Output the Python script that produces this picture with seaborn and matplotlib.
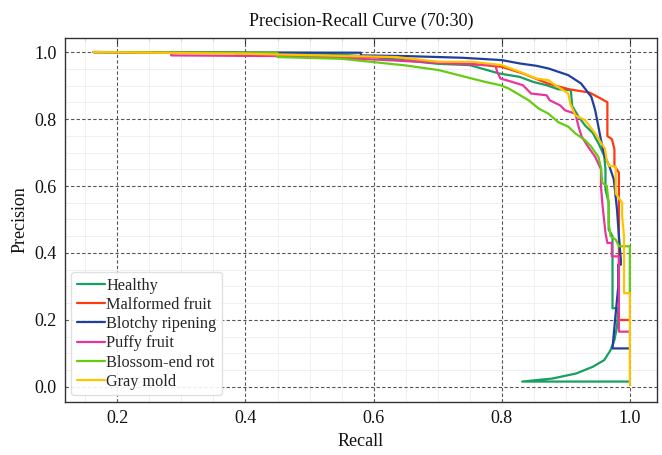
import matplotlib
matplotlib.use("Agg")
import matplotlib.pyplot as plt
import seaborn as sns
import pandas as pd
from matplotlib.ticker import MultipleLocator, NullFormatter

classes = ["Healthy", "Malformed fruit", "Blotchy ripening", "Puffy fruit",
           "Blossom-end rot", "Gray mold"]
colors = ["#17A060", "#FF3A12", "#1F3F9F", "#E8359E", "#66CC11", "#FFC400"]

healthy_recall = [0.163, 0.35, 0.53, 0.60, 0.70, 0.75, 0.796, 0.828, 0.849, 0.870, 0.888, 0.908,
                  0.910, 0.921, 0.931, 0.942, 0.952, 0.960, 0.962, 0.962, 0.967, 0.967, 0.973,
                  0.973, 0.982, 0.980, 0.976, 0.970, 0.960, 0.942, 0.916, 0.879, 0.832, 1.0]
healthy_precision = [1.0, 0.998, 0.995, 0.985, 0.965, 0.961, 0.936, 0.926, 0.911, 0.901, 0.889, 0.886,
                     0.839, 0.804, 0.779, 0.759, 0.724, 0.69, 0.65, 0.59, 0.55, 0.47, 0.45,
                     0.235, 0.235, 0.18, 0.14, 0.11, 0.08, 0.06, 0.04, 0.025, 0.016, 0.016]

malformed_recall = [0.163, 0.386, 0.386, 0.636, 0.70, 0.76, 0.80, 0.833, 0.859, 0.874, 0.905, 0.937,
                    0.952, 0.965, 0.965, 0.972, 0.976, 0.976, 0.983, 0.983, 1.0]
malformed_precision = [1.0, 0.998, 0.99, 0.985, 0.968, 0.963, 0.956, 0.936, 0.916, 0.905, 0.889, 0.879,
                       0.864, 0.85, 0.749, 0.74, 0.71, 0.66, 0.64, 0.2, 0.2]

blotchy_recall = [0.163, 0.58, 0.58, 0.65, 0.738, 0.80, 0.828, 0.854, 0.873, 0.904, 0.924, 0.94,
                  0.946, 0.951, 0.955, 0.961, 0.968, 0.975, 0.980, 0.983, 0.986, 0.986, 0.982,
                  0.982, 0.977, 0.973, 1.0]
blotchy_precision = [1.0, 0.998, 0.99, 0.988, 0.983, 0.976, 0.966, 0.959, 0.951, 0.931, 0.906, 0.866,
                     0.826, 0.777, 0.737, 0.688, 0.66, 0.62, 0.53, 0.45, 0.38, 0.365, 0.365,
                     0.30, 0.2, 0.115, 0.115]

puffy_recall = [0.163, 0.284, 0.284, 0.457, 0.60, 0.70, 0.79, 0.793, 0.798, 0.816, 0.833, 0.846,
                0.870, 0.875, 0.891, 0.899, 0.915, 0.92, 0.925, 0.935, 0.946, 0.955, 0.955,
                0.957, 0.962, 0.965, 0.972, 0.972, 0.983, 0.983, 1.0]
puffy_precision = [1.0, 0.998, 0.99, 0.988, 0.978, 0.968, 0.961, 0.941, 0.921, 0.911, 0.901, 0.876,
                   0.871, 0.856, 0.841, 0.826, 0.816, 0.777, 0.747, 0.717, 0.687, 0.65, 0.60,
                   0.55, 0.46, 0.43, 0.43, 0.39, 0.39, 0.165, 0.165]

blossom_recall = [0.163, 0.45, 0.45, 0.55, 0.60, 0.65, 0.702, 0.743, 0.774, 0.798, 0.811, 0.842,
                  0.858, 0.873, 0.888, 0.904, 0.915, 0.93, 0.94, 0.951, 0.955, 0.957, 0.964,
                  0.967, 0.967, 0.97, 0.978, 0.983, 1.0, 1.0]
blossom_precision = [1.0, 0.998, 0.985, 0.98, 0.97, 0.96, 0.946, 0.926, 0.911, 0.901, 0.891, 0.856,
                     0.831, 0.816, 0.791, 0.777, 0.757, 0.737, 0.717, 0.687, 0.655, 0.61, 0.60,
                     0.55, 0.49, 0.45, 0.44, 0.42, 0.42, 0.28]

graymold_recall = [0.163, 0.40, 0.636, 0.702, 0.754, 0.80, 0.828, 0.854, 0.873, 0.88, 0.904, 0.907,
                   0.915, 0.93, 0.946, 0.954, 0.961, 0.964, 0.968, 0.978, 0.978, 0.988, 0.988,
                   0.991, 0.991, 1.0, 1.0]
graymold_precision = [1.0, 0.995, 0.985, 0.971, 0.971, 0.961, 0.941, 0.921, 0.916, 0.906, 0.876, 0.846,
                      0.811, 0.797, 0.757, 0.732, 0.712, 0.677, 0.66, 0.658, 0.578, 0.55, 0.51,
                      0.45, 0.28, 0.28, 0.005]

curves = [
    (healthy_recall, healthy_precision),
    (malformed_recall, malformed_precision),
    (blotchy_recall, blotchy_precision),
    (puffy_recall, puffy_precision),
    (blossom_recall, blossom_precision),
    (graymold_recall, graymold_precision),
]

sns.set_theme(style="white")
plt.rcParams["font.family"] = ["Liberation Serif", "DejaVu Serif"]

fig = plt.figure(figsize=(6.62, 4.55), dpi=100)
ax = fig.add_axes([0.098, 0.1165, 0.894, 0.80])

for name, col, (r, p) in zip(classes, colors, curves):
    df = pd.DataFrame({"Recall": r, "Precision": p})
    sns.lineplot(data=df, x="Recall", y="Precision", sort=False, estimator=None,
                 color=col, label=name, linewidth=1.6, ax=ax)

ax.xaxis.set_major_locator(MultipleLocator(0.2))
ax.xaxis.set_minor_locator(MultipleLocator(0.05))
ax.yaxis.set_major_locator(MultipleLocator(0.2))
ax.yaxis.set_minor_locator(MultipleLocator(0.05))
ax.set_xlim(0.118, 1.042)
ax.set_ylim(-0.045, 1.042)

ax.grid(which="major", linestyle=(0, (3, 2)), color="#555555", linewidth=0.8)
ax.grid(which="minor", linestyle="-", color="#ececec", linewidth=0.6)
ax.set_axisbelow(True)

ax.tick_params(axis="both", which="major", direction="out", length=4, width=0.8,
               labelsize=13, colors="#222222", labelcolor="#111111", pad=2)
ax.tick_params(axis="both", which="minor", direction="out", length=2, width=0.6, colors="#222222")

sec = ax.secondary_xaxis("top")
sec.xaxis.set_major_locator(MultipleLocator(0.2))
sec.xaxis.set_minor_locator(MultipleLocator(0.05))
sec.xaxis.set_major_formatter(NullFormatter())
sec.tick_params(which="major", direction="in", length=4, width=0.8, colors="#222222")
sec.tick_params(which="minor", direction="in", length=2, width=0.6, colors="#222222")
sec.spines["top"].set_visible(False)

for s in ax.spines.values():
    s.set_color("#333333")
    s.set_linewidth(1.0)

ax.set_xlabel("Recall", fontsize=13, color="#111111", labelpad=4)
ax.set_ylabel("Precision", fontsize=13, color="#111111", labelpad=4)
ax.set_title("Precision-Recall Curve (70:30)", fontsize=13, color="#111111", pad=9)

leg = ax.legend(loc="lower left", fontsize=11.7, frameon=True, handlelength=1.7,
                handletextpad=0.1, borderpad=0.35, labelspacing=0.2, borderaxespad=0.4)
leg.get_frame().set_edgecolor("#dddddd")
leg.get_frame().set_alpha(0.9)

fig.savefig("out.png", dpi=100)
